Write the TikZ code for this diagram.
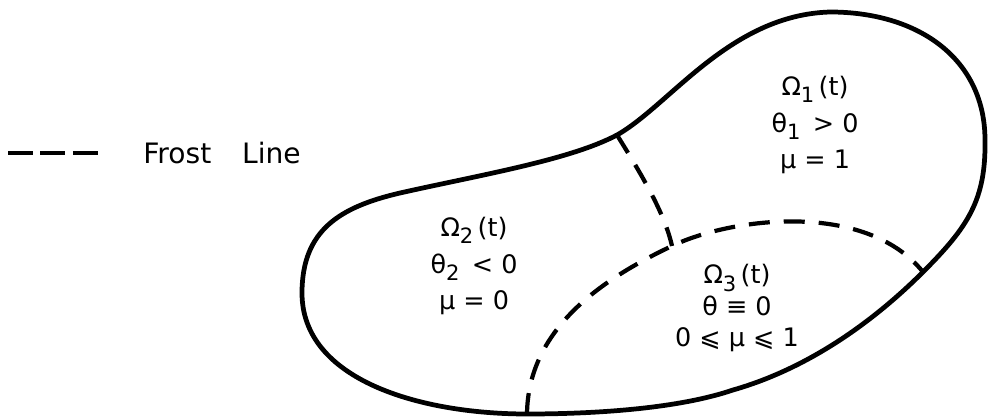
\documentclass[tikz,border=0pt]{standalone}
\usepackage{fontspec}
\setmainfont{DejaVu Sans}
\usepackage{tikz}
\usetikzlibrary{positioning}
\newcommand{\idx}[1]{\raisebox{-0.55ex}{\fontsize{12}{12}\selectfont #1}}

\begin{document}
\begin{tikzpicture}[x=0.02cm, y=-0.02cm,
  boundary/.style={line width=2.7pt, line join=round},
  frost/.style={line width=2.4pt, dash pattern=on 0.42cm off 0.28cm},
  legdash/.style={line width=2.6pt, dash pattern=on 0.5cm off 0.15cm},
  region/.style={align=center, inner sep=0pt,
                 font=\fontsize{14.5}{21}\selectfont},
  legend/.style={inner sep=0pt, font=\fontsize{16}{16}\selectfont}
]
  \useasboundingbox (0,0) rectangle (988,418);
  % where the frost lines meet the boundary
  \coordinate (top)    at (617,135);
  \coordinate (right)  at (923,272);
  \coordinate (bottom) at (527,414);
  \coordinate (meet)   at (672,246);
  % boundary of the domain
  \draw[boundary] (top) .. controls (670,105) and (730,15) .. (830,12)
    .. controls (920,12) and (985,60) .. (985,140)
    .. controls (986,200) and (968,227) .. (right)
    .. controls (875,320) and (810,368) .. (733,390)
    .. controls (680,408) and (600,414) .. (bottom)
    .. controls (420,414) and (302,380) .. (302,293)
    .. controls (302,230) and (340,207) .. (400,193)
    .. controls (480,175) and (570,160) .. (top) -- cycle;
  % frost lines
  \draw[frost] (top) .. controls (645,180) and (665,215) .. (meet);
  \draw[frost] (bottom) .. controls (528,330) and (600,280) .. (meet)
    .. controls (730,218) and (865,200) .. (right);
  % regions
  \node[region] (omega1) at (815,125) {Ω\idx{1}\,(t)\\θ\idx{1}\, > 0\\μ = 1};
  \node[region] (omega2) at (474,266) {Ω\idx{2}\,(t)\\θ\idx{2}\, < 0\\μ = 0};
  \node[region, font=\fontsize{14.5}{18}\selectfont] (omega3) at (737,308)
    {Ω\idx{3}\,(t)\\θ ≡ 0\\0 ⩽ μ ⩽ 1};
  % legend
  \coordinate (legA) at (8,153);
  \coordinate (legB) at (98,153);
  \draw[legdash] (legA) -- (legB);
  \node[legend, right=0.9cm of legB] (legtext) {Frost\hspace{1.1em}Line};
\end{tikzpicture}
\end{document}
